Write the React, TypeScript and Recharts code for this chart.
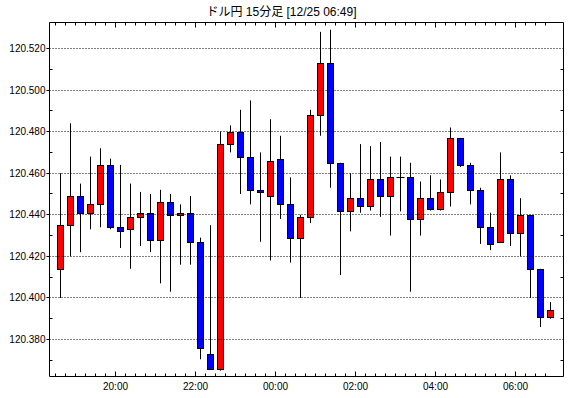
import { ComposedChart, Bar, XAxis, YAxis, ReferenceLine } from "recharts";

// USD/JPY 15-minute candles, first candle opens at 18:30 (12/24)
const START_TIME = "18:30";

const OPEN = [
  120.414, 120.435, 120.449, 120.441, 120.445, 120.464, 120.434, 120.433, 120.439, 120.441,
  120.428, 120.446, 120.44, 120.441, 120.427, 120.373, 120.366, 120.474, 120.48, 120.468,
  120.452, 120.449, 120.467, 120.445, 120.429, 120.439, 120.488, 120.513, 120.465, 120.442,
  120.448, 120.444, 120.457, 120.449, 120.458, 120.458, 120.438, 120.448, 120.443, 120.451,
  120.477, 120.464, 120.452, 120.434, 120.427, 120.457, 120.431, 120.44, 120.414, 120.391,
];
const HIGH = [
  120.46, 120.484, 120.455, 120.468, 120.472, 120.467, 120.464, 120.455, 120.451, 120.45,
  120.452, 120.45, 120.445, 120.449, 120.429, 120.435, 120.48, 120.483, 120.4905, 120.495,
  120.47, 120.486, 120.478, 120.458, 120.44, 120.4905, 120.528, 120.529, 120.465, 120.46,
  120.474, 120.473, 120.475, 120.468, 120.468, 120.465, 120.456, 120.459, 120.457, 120.482,
  120.477, 120.465, 120.453, 120.441, 120.47, 120.459, 120.448, 120.44, 120.414, 120.398,
];
const LOW = [
  120.4, 120.42, 120.422, 120.433, 120.434, 120.433, 120.424, 120.414, 120.425, 120.422,
  120.407, 120.403, 120.416, 120.416, 120.3705, 120.366, 120.365, 120.47, 120.45, 120.445,
  120.427, 120.418, 120.438, 120.417, 120.4, 120.436, 120.478, 120.453, 120.411, 120.432,
  120.441, 120.442, 120.439, 120.43, 120.4416, 120.403, 120.43, 120.442, 120.442, 120.444,
  120.463, 120.445, 120.426, 120.423, 120.427, 120.425, 120.42, 120.4, 120.386, 120.39,
];
const CLOSE = [
  120.435, 120.449, 120.441, 120.445, 120.464, 120.434, 120.432, 120.439, 120.441, 120.428,
  120.446, 120.44, 120.441, 120.427, 120.376, 120.366, 120.474, 120.48, 120.468, 120.452,
  120.451, 120.466, 120.445, 120.429, 120.439, 120.488, 120.513, 120.465, 120.442, 120.448,
  120.444, 120.457, 120.449, 120.458, 120.458, 120.438, 120.448, 120.443, 120.451, 120.477,
  120.464, 120.452, 120.434, 120.426, 120.457, 120.431, 120.44, 120.414, 120.391, 120.394,
];

const TIME_LABELS = ["20:00", "22:00", "00:00", "02:00", "04:00", "06:00"];
const Y_MAJOR = [120.38, 120.4, 120.42, 120.44, 120.46, 120.48, 120.5, 120.52];
const Y_MINOR = [120.37, 120.39, 120.41, 120.43, 120.45, 120.47, 120.49, 120.51];

const TITLE = "ドル円 15分足 [12/25 06:49]";
const FONT = "'Liberation Sans', 'Noto Sans CJK JP', sans-serif";

const toMin = (s: string) => {
  const [h, m] = s.split(":").map(Number);
  return h * 60 + m;
};
// tick sits on the left edge of the candle slot that starts at that time
const slotOf = (label: string) => {
  let d = toMin(label) - toMin(START_TIME);
  if (d < 0) d += 1440;
  return d / 15 - 0.5;
};

const data = OPEN.map((o, i) => ({ i, o, h: HIGH[i], l: LOW[i], c: CLOSE[i] }));
const X_TICKS = OPEN.map((_, i) => i - 0.5);
const LABEL_AT = new Map(TIME_LABELS.map((t) => [slotOf(t), t]));

const crisp = (v: number) => Math.round(v - 0.5) + 0.5;

function Candle(props: any) {
  const { x, y, width, height, payload } = props;
  if (!payload || height == null) return null;
  const top = Math.min(y, y + height);
  const span = Math.abs(height);
  const ratio = span / (payload.h - payload.l);
  const cx = Math.floor(x + width / 2) + 0.5;
  const py = (v: number) => top + (payload.h - v) * ratio;
  const up = payload.c >= payload.o;
  const bTop = Math.round(py(Math.max(payload.o, payload.c))) + 0.5;
  const bBot = Math.round(py(Math.min(payload.o, payload.c))) + 0.5;
  return (
    <g>
      <line x1={cx} x2={cx} y1={top} y2={top + span} stroke="#000" strokeWidth={1} />
      {bBot - bTop < 1 ? (
        <line x1={cx - 4} x2={cx + 4} y1={bTop} y2={bTop} stroke="#000" strokeWidth={1} />
      ) : (
        <rect
          x={cx - 3}
          y={bTop}
          width={6}
          height={bBot - bTop}
          fill={up ? "#ff0000" : "#0000ff"}
          stroke="#000"
          strokeWidth={1}
        />
      )}
    </g>
  );
}

function BottomTick(props: any) {
  const { x, y, payload } = props;
  const label = LABEL_AT.get(payload.value);
  const px = crisp(x);
  return (
    <g>
      <line x1={px} x2={px} y1={y} y2={y - (label ? 5 : 3)} stroke="#000" />
      {label && (
        <text x={px} y={y + 13} textAnchor="middle" fontSize={10} fontFamily={FONT} fill="#000">
          {label}
        </text>
      )}
    </g>
  );
}

function TopTick(props: any) {
  const { x, y, payload } = props;
  const major = LABEL_AT.has(payload.value);
  const px = crisp(x);
  return <line x1={px} x2={px} y1={y} y2={y + (major ? 5 : 3)} stroke="#000" />;
}

function LeftTick(props: any) {
  const { x, y, payload } = props;
  const major = Y_MAJOR.some((v) => Math.abs(v - payload.value) < 1e-6);
  const py = crisp(y);
  if (!major) return <line x1={x} x2={x + 3} y1={py} y2={py} stroke="#000" />;
  return (
    <g>
      <line x1={x - 3} x2={x} y1={py} y2={py} stroke="#000" />
      <text x={x - 4} y={py + 3.5} textAnchor="end" fontSize={10} fontFamily={FONT} fill="#000">
        {payload.value.toFixed(3)}
      </text>
    </g>
  );
}

function RightTick(props: any) {
  const { x, y } = props;
  const py = crisp(y);
  return <line x1={x - 3} x2={x} y1={py} y2={py} stroke="#000" />;
}

function GridLine(props: any) {
  const { x1, x2, y1 } = props;
  const py = crisp(y1);
  return <line x1={x1} x2={x2} y1={py} y2={py} stroke="#000" strokeWidth={1} strokeDasharray="1 2" />;
}

const X_DOMAIN = [-1.1, 50.3];
const Y_DOMAIN = [120.3622, 120.5325];

export default function App() {
  return (
    <div style={{ position: "absolute", left: 0, top: 0, width: 570, height: 398, background: "#fff" }}>
      <div
        style={{
          position: "absolute",
          left: 0,
          top: 5,
          width: 563,
          textAlign: "center",
          fontSize: 12,
          lineHeight: "14px",
          fontFamily: FONT,
          color: "#000",
        }}
      >
        {TITLE}
      </div>
      <ComposedChart width={570} height={398} data={data} margin={{ top: 0, right: 0, bottom: 0, left: 0 }}>
        <XAxis
          xAxisId="b"
          dataKey="i"
          type="number"
          domain={X_DOMAIN}
          ticks={X_TICKS}
          interval={0}
          height={21.5}
          tickSize={0}
          tickMargin={0}
          tickLine={false}
          tick={<BottomTick />}
          axisLine={{ stroke: "#000" }}
          allowDataOverflow
        />
        <XAxis
          xAxisId="t"
          orientation="top"
          dataKey="i"
          type="number"
          domain={X_DOMAIN}
          ticks={X_TICKS}
          interval={0}
          height={22.5}
          tickSize={0}
          tickMargin={0}
          tickLine={false}
          tick={<TopTick />}
          axisLine={{ stroke: "#000" }}
          allowDataOverflow
        />
        <YAxis
          yAxisId="l"
          type="number"
          domain={Y_DOMAIN}
          ticks={[...Y_MINOR, ...Y_MAJOR].sort((a, b) => a - b)}
          interval={0}
          width={49.5}
          tickSize={0}
          tickMargin={0}
          tickLine={false}
          tick={<LeftTick />}
          axisLine={{ stroke: "#000" }}
          allowDataOverflow
        />
        <YAxis
          yAxisId="r"
          orientation="right"
          type="number"
          domain={Y_DOMAIN}
          ticks={Y_MINOR}
          interval={0}
          width={6.5}
          tickSize={0}
          tickMargin={0}
          tickLine={false}
          tick={<RightTick />}
          axisLine={{ stroke: "#000" }}
          allowDataOverflow
        />
        {Y_MAJOR.map((v) => (
          <ReferenceLine
            key={v}
            y={v}
            xAxisId="b"
            yAxisId="l"
            stroke="#000"
            shape={(p: any) => <GridLine {...p} />}
          />
        ))}
        <Bar
          xAxisId="b"
          yAxisId="l"
          dataKey={(d: any) => [d.l, d.h]}
          barSize={7}
          shape={<Candle />}
          isAnimationActive={false}
        />
      </ComposedChart>
    </div>
  );
}
